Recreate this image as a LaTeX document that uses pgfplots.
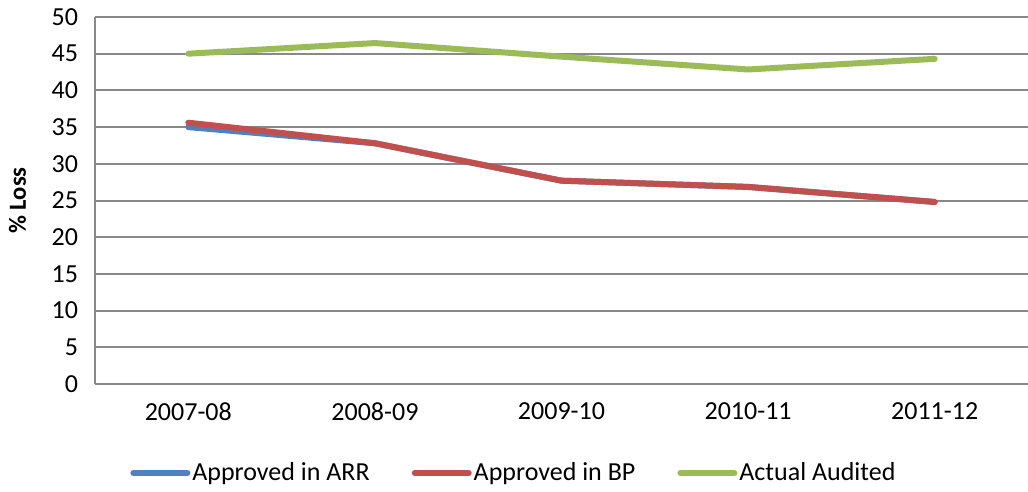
\documentclass[border=0pt]{standalone}
\usepackage{fontspec}
\setmainfont{Carlito}
\usepackage{pgfplots}
\pgfplotsset{compat=1.18}
\definecolor{cblue}{HTML}{4F81BD}
\definecolor{cred}{HTML}{C0504D}
\definecolor{cgreen}{HTML}{9BBB59}
\definecolor{cgrid}{HTML}{898989}
\begin{document}
\begin{tikzpicture}
\path[use as bounding box] (-47.5pt,-54pt) rectangle (466.5pt,192pt);
\begin{axis}[
  at={(0pt,0pt)}, anchor=south west,
  scale only axis, width=466.5pt, height=183.5pt,
  xmin=-0.5, xmax=4.5, ymin=0, ymax=50,
  xtick={0,1,2,3,4},
  xticklabels={2007-08,2008-09,2009-10,2010-11,2011-12},
  ytick={0,5,...,50},
  axis x line*=bottom, axis y line*=left,
  axis line style={cgrid, line width=1pt, -},
  ymajorgrids, grid style={cgrid, line width=1pt},
  major tick length=0pt,
  /pgf/number format/assume math mode=true,
  ticklabel style={font=\fontsize{13}{15}\selectfont},
  yticklabel style={xshift=-5pt},
  xticklabel style={yshift=-6pt},
  ylabel={\textbf{\% Loss}},
  ylabel style={font=\fontsize{12.3}{14}\selectfont, at={(axis description cs:-0.083,0.5)}, anchor=center},
  legend style={at={(axis description cs:0.449,-0.2425)}, anchor=center, draw=none, fill=none,
    font=\fontsize{13}{15}\selectfont, legend columns=3,
    nodes={inner xsep=1pt},
    /tikz/every even column/.append style={column sep=20pt}},
  legend image code/.code={\draw[#1, line width=3pt, line cap=round] (0pt,0pt) -- (27pt,0pt);},
  legend cell align=left,
]
\addplot[cblue, line width=3pt, line cap=round, line join=round] coordinates {(0,35.0) (1,32.8) (2,27.7) (3,26.85) (4,24.8)};
\addlegendentry{Approved in ARR}
\addplot[cred, line width=3pt, line cap=round, line join=round] coordinates {(0,35.6) (1,32.8) (2,27.7) (3,26.85) (4,24.8)};
\addlegendentry{Approved in BP}
\addplot[cgreen, line width=3pt, line cap=round, line join=round] coordinates {(0,45.0) (1,46.45) (2,44.6) (3,42.85) (4,44.3)};
\addlegendentry{Actual Audited}
\end{axis}
\end{tikzpicture}
\end{document}
